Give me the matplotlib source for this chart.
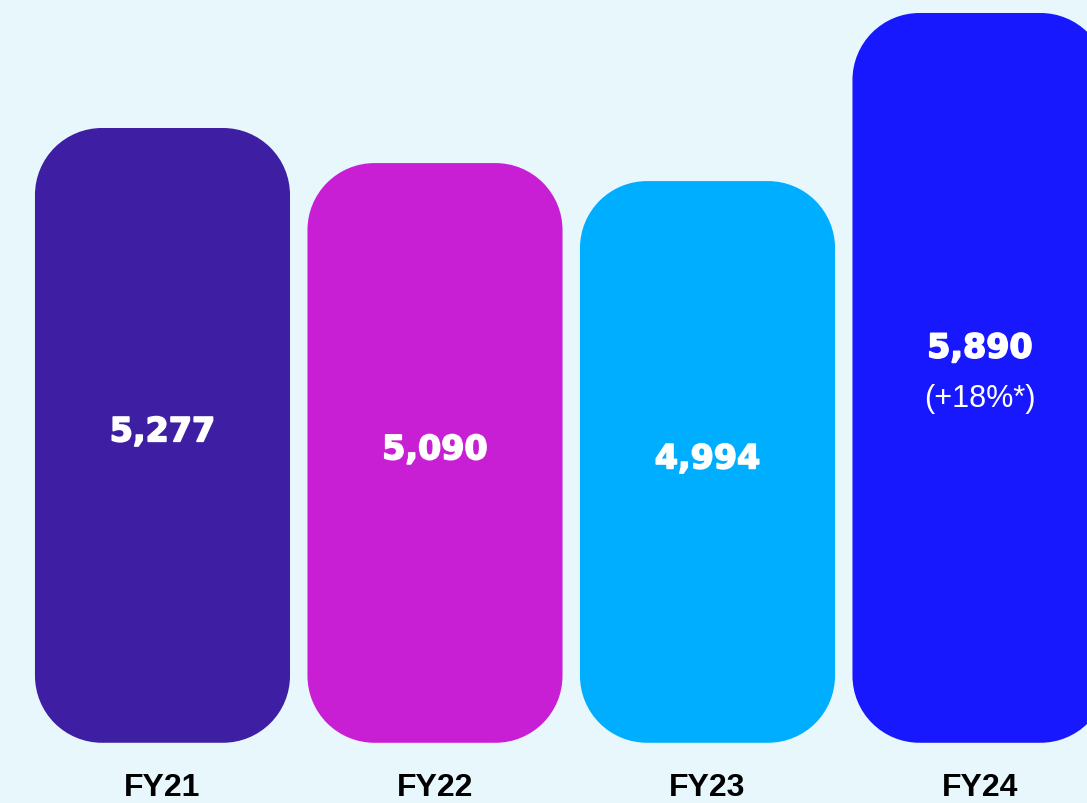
import numpy as np
import matplotlib
matplotlib.use("Agg")
import matplotlib.pyplot as plt
import matplotlib.patheffects as pe
from matplotlib.patches import FancyBboxPatch
from matplotlib.path import Path

# ---- data ----
categories = ["FY21", "FY22", "FY23", "FY24"]
values = [5277, 5090, 4994, 5890]
value_labels = ["5,277", "5,090", "4,994", "5,890"]
sub_labels = ["", "", "", "(+18%*)"]
colors = ["#3E1EA2", "#C81FD5", "#00AEFF", "#1818FF"]

# ---- style / layout ----
BG = "#E8F7FC"
BASELINE = 2000
W, H, DPI = 1087, 804, 100

fig = plt.figure(figsize=(W / DPI, H / DPI), dpi=DPI, facecolor=BG)
ax = fig.add_axes([0, 44 / H, 1, 760 / H])
ax.set_facecolor(BG)

x = list(range(len(categories)))
bars = ax.bar(x, [v - BASELINE for v in values], bottom=BASELINE, width=0.936,
              color=colors)
ax.set_xlim(-0.5963, 3.3927)
ax.set_ylim(1913.5, 5964.6)

for s in ax.spines.values():
    s.set_visible(False)
ax.set_yticks([])
ax.set_xticks(x)
ax.set_xticklabels(categories, fontfamily="Liberation Sans", fontweight="bold",
                   fontsize=23, color="black")
ax.tick_params(axis="x", length=0, pad=9.5)

fig.canvas.draw()
x_px = ax.transData.transform((1, 0))[0] - ax.transData.transform((0, 0))[0]
y_px = ax.transData.transform((0, 1))[1] - ax.transData.transform((0, 0))[1]
aspect = x_px / y_px
radius_px = 67
R = radius_px / x_px


def circ_round(x0, y0, width, height, mutation_size, r=R):
    r = min(r, width / 2, height / 2)
    x1, y1 = x0 + width, y0 + height
    verts = [(x0 + r, y0)]
    codes = [Path.MOVETO]

    def add_arc(cx, cy, t1, t2):
        a = Path.arc(t1, t2)
        v = a.vertices[1:] * r + np.array([cx, cy])
        verts.extend(map(tuple, v))
        codes.extend(a.codes[1:])

    verts.append((x1 - r, y0)); codes.append(Path.LINETO)
    add_arc(x1 - r, y0 + r, 270, 360)
    verts.append((x1, y1 - r)); codes.append(Path.LINETO)
    add_arc(x1 - r, y1 - r, 0, 90)
    verts.append((x0 + r, y1)); codes.append(Path.LINETO)
    add_arc(x0 + r, y1 - r, 90, 180)
    verts.append((x0, y0 + r)); codes.append(Path.LINETO)
    add_arc(x0 + r, y0 + r, 180, 270)
    verts.append((x0 + r, y0)); codes.append(Path.CLOSEPOLY)
    return Path(verts, codes)


for b, c in zip(bars, colors):
    b.set_visible(False)
    p = FancyBboxPatch((b.get_x(), b.get_y()), b.get_width(), b.get_height(),
                       boxstyle=circ_round, mutation_aspect=aspect,
                       facecolor=c, edgecolor="none", clip_on=False)
    ax.add_patch(p)

# value labels
bold_fx = [pe.withStroke(linewidth=1.2, foreground="white")]
for i, (v, lab, sub) in enumerate(zip(values, value_labels, sub_labels)):
    mid = BASELINE + (v - BASELINE) * 0.51
    if sub:
        ax.annotate(lab, (i, mid), xytext=(0, 9.3), textcoords="offset points",
                    ha="center", va="baseline", color="white", fontsize=24,
                    fontweight="bold", fontfamily="DejaVu Sans",
                    path_effects=bold_fx)
        ax.annotate(sub, (i, mid), xytext=(0, -25.5), textcoords="offset points",
                    ha="center", va="baseline", color="white", fontsize=22,
                    fontfamily="Liberation Sans")
    else:
        ax.annotate(lab, (i, mid), xytext=(0, -8.7), textcoords="offset points",
                    ha="center", va="baseline", color="white", fontsize=24,
                    fontweight="bold", fontfamily="DejaVu Sans",
                    path_effects=bold_fx)

fig.savefig("out.png", dpi=DPI, facecolor=BG)
